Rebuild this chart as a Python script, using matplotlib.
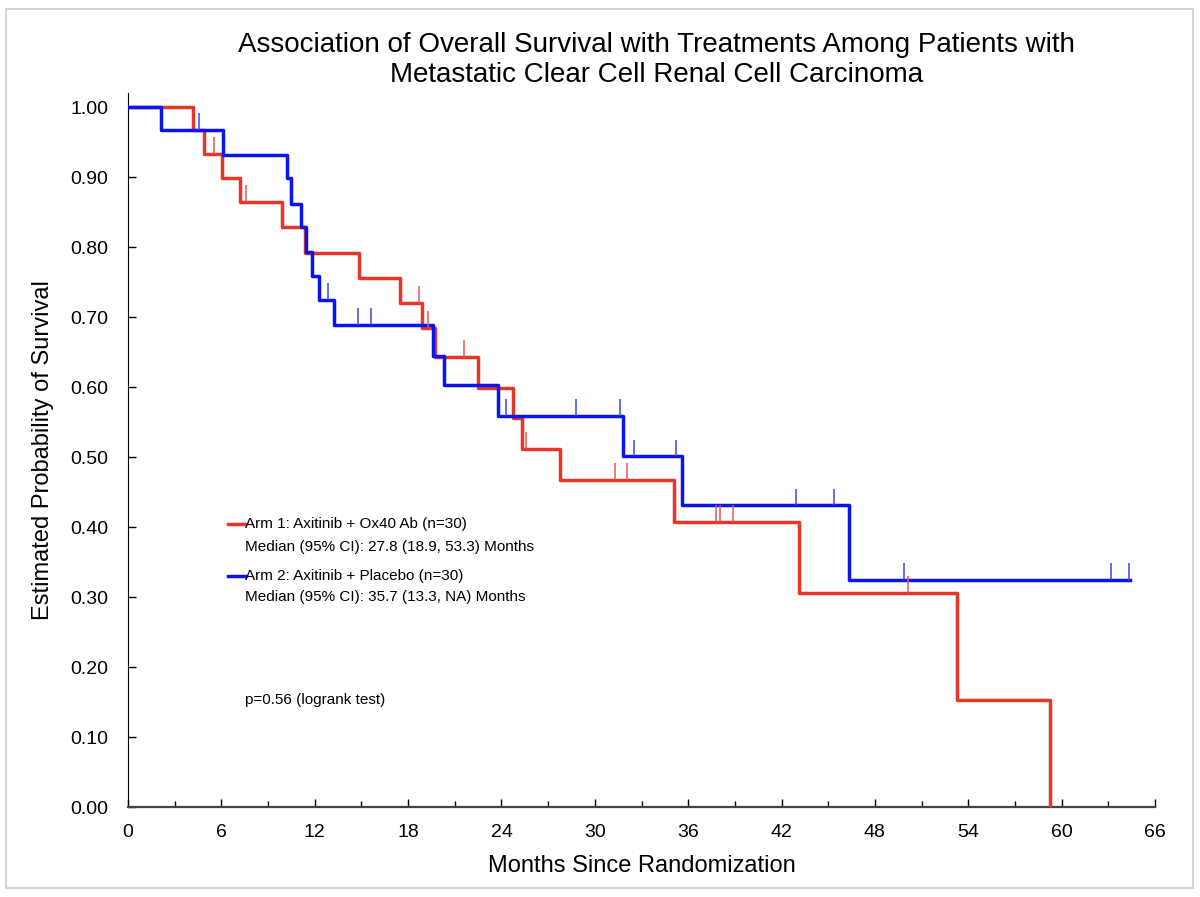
import matplotlib.pyplot as plt
import numpy as np
from matplotlib.patches import Rectangle

plt.rcParams['font.family'] = ['Liberation Sans', 'DejaVu Sans']

# --- DATA ---
# Arm 1: Axitinib + Ox40 Ab -- step times (months) and survival after each step
red_t = [0, 4.16, 4.9, 6.06, 7.2, 9.88, 11.4, 14.85, 17.5, 18.87, 19.73, 22.5,
         24.76, 25.3, 27.76, 35.1, 43.15, 53.25, 59.26]
red_s = [1.0, 0.967, 0.933, 0.898, 0.864, 0.829, 0.791, 0.756, 0.720, 0.684,
         0.643, 0.598, 0.555, 0.512, 0.467, 0.407, 0.306, 0.153, 0.0]
red_cens = [5.5, 7.57, 18.72, 19.3, 21.6, 25.6, 31.3, 32.1, 37.8, 38.06, 38.9, 50.1]

# Arm 2: Axitinib + Placebo
blue_t = [0, 2.12, 6.08, 10.2, 10.5, 11.1, 11.42, 11.85, 12.3, 13.24, 19.6, 20.3,
          23.8, 31.8, 35.6, 46.36, 64.4]
blue_s = [1.0, 0.967, 0.932, 0.898, 0.862, 0.829, 0.793, 0.759, 0.724, 0.689,
          0.645, 0.603, 0.559, 0.501, 0.431, 0.324, 0.324]
blue_cens = [4.58, 12.83, 14.76, 15.6, 24.3, 28.8, 31.6, 32.5, 35.2, 42.9, 45.4,
             49.9, 63.2, 64.35]

arm_labels = ['Arm 1: Axitinib + Ox40 Ab (n=30)', 'Arm 2: Axitinib + Placebo (n=30)']
median_labels = ['Median (95% CI): 27.8 (18.9, 53.3) Months',
                 'Median (95% CI): 35.7 (13.3, NA) Months']
p_label = 'p=0.56 (logrank test)'

RED = '#e8352a'
BLUE = '#0a14f0'


def surv_at(times, surv, x):
    idx = np.searchsorted(times, x, side='right') - 1
    return np.asarray(surv)[idx]


fig = plt.figure(figsize=(12, 8.97), dpi=100)
fig.patch.set_facecolor('white')
fig.patches.append(Rectangle((6 / 1200, 9 / 897), 1187 / 1200, 879 / 897,
                             transform=fig.transFigure, fill=False,
                             edgecolor='#d4d4d4', linewidth=1.5))

ax = fig.add_axes([128 / 1200, 1 - 807 / 897, 1027 / 1200, 714 / 897])

ax.step(red_t, red_s, where='post', color=RED, linewidth=2.5, zorder=3)
ax.step(blue_t, blue_s, where='post', color=BLUE, linewidth=2.5, zorder=4)

mark_h = 0.024
ry = surv_at(red_t, red_s, red_cens)
ax.vlines(red_cens, ry, ry + mark_h, color='#e05a50', linewidth=1.1, zorder=5)
by = surv_at(blue_t, blue_s, blue_cens)
ax.vlines(blue_cens, by, by + mark_h, color='#3a46e8', linewidth=1.1, zorder=5)

# legend drawn by hand
fs = 11
ax.plot([6.43, 7.55], [0.404, 0.404], color=RED, linewidth=2.5)
ax.plot([6.43, 7.55], [0.330, 0.330], color=BLUE, linewidth=2.5)
ax.text(7.55, 0.404, arm_labels[0], fontsize=fs, va='center', ha='left')
ax.text(7.55, 0.372, median_labels[0], fontsize=fs, va='center', ha='left')
ax.text(7.55, 0.330, arm_labels[1], fontsize=fs, va='center', ha='left')
ax.text(7.55, 0.300, median_labels[1], fontsize=fs, va='center', ha='left')
ax.text(7.55, 0.153, p_label, fontsize=fs, va='center', ha='left')

ax.set_xlim(0, 66)
ax.set_ylim(0, 1.02)
ax.set_xticks(np.arange(0, 67, 6))
ax.set_xticks(np.arange(3, 66, 6), minor=True)
ax.set_yticks(np.arange(0, 1.01, 0.1))
ax.set_yticklabels([f'{v:.2f}' for v in np.arange(0, 1.01, 0.1)])

ax.tick_params(axis='both', which='major', direction='in', length=6, width=1,
               labelsize=14)
ax.tick_params(axis='x', which='minor', direction='in', length=4, width=1)
ax.tick_params(axis='x', which='major', pad=12)
ax.tick_params(axis='y', which='major', pad=14)

ax.spines['top'].set_visible(False)
ax.spines['right'].set_visible(False)
ax.spines['left'].set_color('black')
ax.spines['bottom'].set_color('#444444')
ax.spines['bottom'].set_linewidth(1.6)

ax.set_xlabel('Months Since Randomization', fontsize=17, labelpad=10)
ax.set_ylabel('Estimated Probability of Survival', fontsize=17, labelpad=12)

fig.text(0.547, 1 - 60 / 897,
         'Association of Overall Survival with Treatments Among Patients with\n'
         'Metastatic Clear Cell Renal Cell Carcinoma',
         ha='center', va='center', fontsize=20, linespacing=1.25)

fig.savefig('out.png', dpi=100)
